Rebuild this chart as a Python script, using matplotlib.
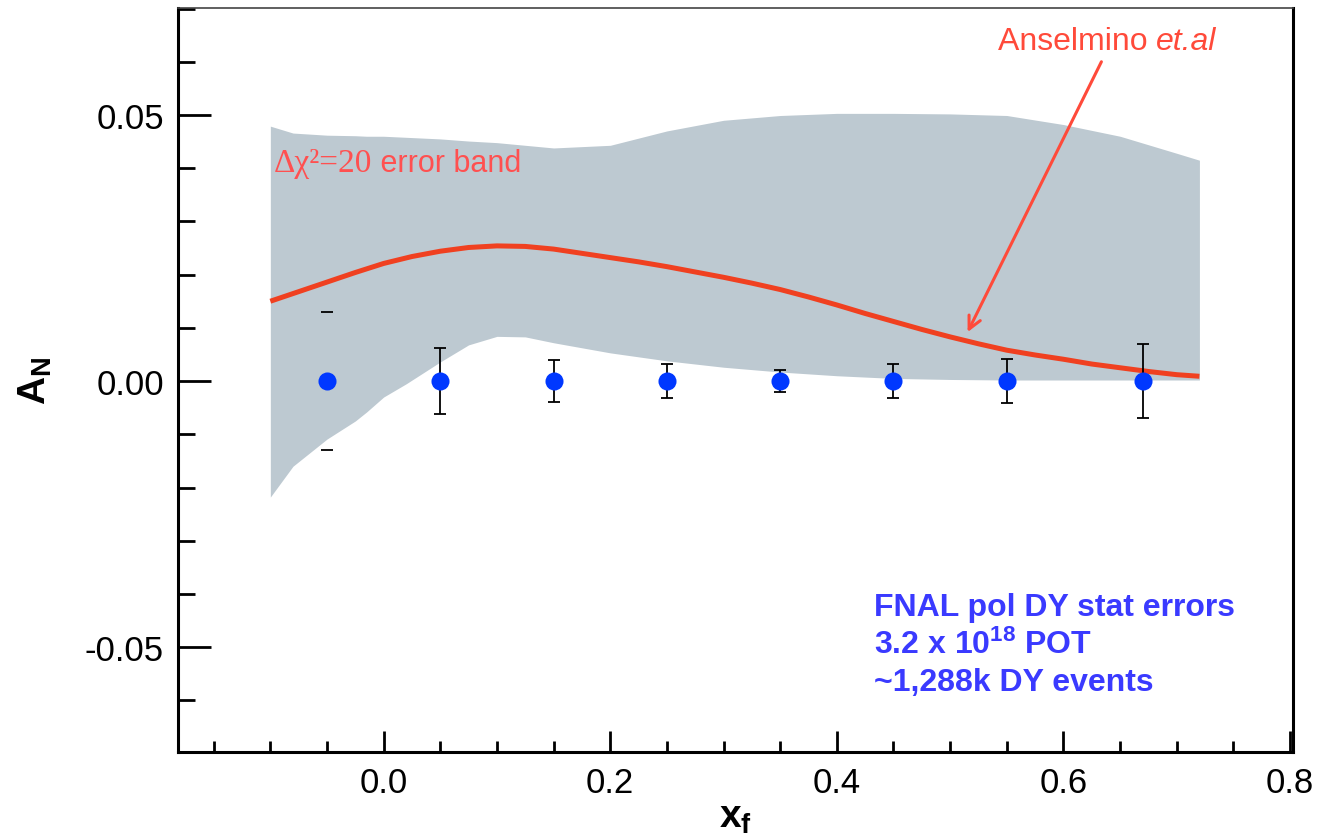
import matplotlib
matplotlib.use("Agg")
import matplotlib.pyplot as plt
from matplotlib.ticker import MultipleLocator, FormatStrFormatter

# ---------------- data ----------------
xf_points = [-0.05, 0.05, 0.15, 0.25, 0.35, 0.45, 0.55, 0.67]
an_points = [0.0, 0.0, 0.0, 0.0, 0.0, 0.0, 0.0, 0.0]
an_errors = [0.013, 0.0062, 0.0040, 0.0032, 0.0020, 0.0032, 0.0041, 0.0070]

band_x = [-0.1, -0.08, -0.05, -0.025, -0.015, 0.0, 0.02, 0.05, 0.075, 0.1, 0.125,
          0.15, 0.2, 0.25, 0.3, 0.35, 0.4, 0.45, 0.5, 0.55, 0.6, 0.65, 0.7, 0.72]
band_upper = [0.0479, 0.0466, 0.0462, 0.0461, 0.0460, 0.0460, 0.0458, 0.0455, 0.0451,
              0.0448, 0.0443, 0.0438, 0.0443, 0.0470, 0.0490, 0.0499, 0.0503, 0.0503,
              0.0502, 0.0499, 0.0482, 0.0460, 0.0428, 0.0415]
band_lower = [-0.0218, -0.0160, -0.0109, -0.0075, -0.0058, -0.0030, -0.0005, 0.0036,
              0.0068, 0.0084, 0.0083, 0.0072, 0.0053, 0.0038, 0.0026, 0.0017, 0.0010,
              0.0005, 0.0003, 0.0002, 0.0002, 0.0002, 0.0002, 0.0002]

curve_x = [-0.1, -0.075, -0.05, -0.025, 0.0, 0.025, 0.05, 0.075, 0.1, 0.125, 0.15,
           0.175, 0.2, 0.225, 0.25, 0.275, 0.3, 0.325, 0.35, 0.375, 0.4, 0.425, 0.45,
           0.475, 0.5, 0.525, 0.55, 0.575, 0.6, 0.625, 0.65, 0.675, 0.7, 0.72]
curve_y = [0.0150, 0.0168, 0.0186, 0.0204, 0.0221, 0.0234, 0.0244, 0.0251, 0.0254,
           0.0253, 0.0248, 0.0240, 0.0232, 0.0224, 0.0215, 0.0205, 0.0195, 0.0184,
           0.0172, 0.0158, 0.0143, 0.0127, 0.0112, 0.0097, 0.0083, 0.0070, 0.0058,
           0.0049, 0.0041, 0.0032, 0.0025, 0.0018, 0.0012, 0.0009]

x_ticks = [0.0, 0.2, 0.4, 0.6, 0.8]
y_ticks = [-0.05, 0.0, 0.05]

# ---------------- style ----------------
plt.rcParams['font.family'] = ['Liberation Sans', 'DejaVu Sans']
plt.rcParams['mathtext.fontset'] = 'custom'
plt.rcParams['mathtext.rm'] = 'Liberation Sans'
plt.rcParams['mathtext.it'] = 'Liberation Sans:italic'
plt.rcParams['mathtext.bf'] = 'Liberation Sans:bold'
plt.rcParams['axes.unicode_minus'] = False

W, H = 1318, 837
fig = plt.figure(figsize=(W / 100, H / 100), dpi=100)
ax = fig.add_axes([178 / W, (H - 753) / H, (1293 - 178) / W, (753 - 9) / H])

ax.set_xlim(-0.1815, 0.8026)
ax.set_ylim(-0.0697, 0.0701)

# band
ax.fill_between(band_x, band_lower, band_upper, color='#bdc9d1', linewidth=0, zorder=1)
# model curve
ax.plot(curve_x, curve_y, color='#f04020', linewidth=3.6, zorder=2,
        solid_capstyle='butt', solid_joinstyle='round')

# data points
ax.errorbar(xf_points[1:], an_points[1:], yerr=an_errors[1:], fmt='none',
            ecolor='black', elinewidth=1.3, capsize=4, capthick=1.3, zorder=3)
ax.errorbar(xf_points[:1], an_points[:1], yerr=an_errors[:1], fmt='none',
            ecolor='black', elinewidth=0, capsize=4, capthick=1.3, zorder=3)
ax.plot(xf_points, an_points, 'o', color='#0038ff', markersize=13,
        markeredgewidth=0, zorder=4)

# spines
for side in ['left', 'bottom', 'right']:
    ax.spines[side].set_linewidth(2.2)
    ax.spines[side].set_color('black')
ax.spines['top'].set_linewidth(1.2)
ax.spines['top'].set_color('#444444')

# ticks
ax.xaxis.set_minor_locator(MultipleLocator(0.05))
ax.yaxis.set_minor_locator(MultipleLocator(0.01))
ax.set_xticks(x_ticks)
ax.set_yticks(y_ticks)
ax.xaxis.set_major_formatter(FormatStrFormatter('%.1f'))
ax.yaxis.set_major_formatter(FormatStrFormatter('%.2f'))
ax.tick_params(axis='both', which='both', direction='in', top=False, right=False,
               width=2.0, labelsize=25, colors='black')
ax.tick_params(axis='y', which='major', length=24, pad=10)
ax.tick_params(axis='y', which='minor', length=12)
ax.tick_params(axis='x', which='major', length=15, pad=10)
ax.tick_params(axis='x', which='minor', length=8)

ax.set_xlabel(r'$\mathbf{x_f}$', fontsize=28, labelpad=0)
ax.set_ylabel(r'$\mathbf{A_N}$', fontsize=28, labelpad=22)

# band label: serif "Δχ²=20" followed by sans " error band"
t1 = ax.text(-0.0969, 0.0395, 'Δχ²=20', family=['Liberation Serif', 'DejaVu Serif'],
             color='#ff5050', fontsize=24, ha='left', va='baseline', zorder=5)
ax.annotate(' error band', xy=(1, 0), xycoords=t1, color='#ff5050', fontsize=22,
            ha='left', va='bottom', zorder=5)

# model label with arrow
red = '#ff4a3a'
t2 = ax.text(0.5419, 0.0624, 'Anselmino ', color=red, fontsize=23, ha='left',
             va='baseline', zorder=5)
ax.annotate('et.al', xy=(1, 0), xycoords=t2, color=red, fontsize=23, style='italic',
            ha='left', va='bottom', zorder=5)
ax.annotate('', xy=(0.5154, 0.0092), xytext=(0.6335, 0.0600), textcoords='data',
            arrowprops=dict(arrowstyle='->,head_length=0.9,head_width=0.45',
                            color=red, lw=2.2, shrinkA=0, shrinkB=0),
            zorder=5)

blue = '#3a3aff'
ax.text(0.4326, -0.0440, 'FNAL pol DY stat errors', color=blue, fontsize=23,
        fontweight='bold', ha='left', va='baseline')
ax.text(0.4326, -0.0511, r'3.2 x 10$^{\mathbf{18}}$ POT', color=blue, fontsize=23,
        fontweight='bold', ha='left', va='baseline')
ax.text(0.4326, -0.0581, '~1,288k DY events', color=blue, fontsize=23,
        fontweight='bold', ha='left', va='baseline')

fig.savefig('out.png', dpi=100)
